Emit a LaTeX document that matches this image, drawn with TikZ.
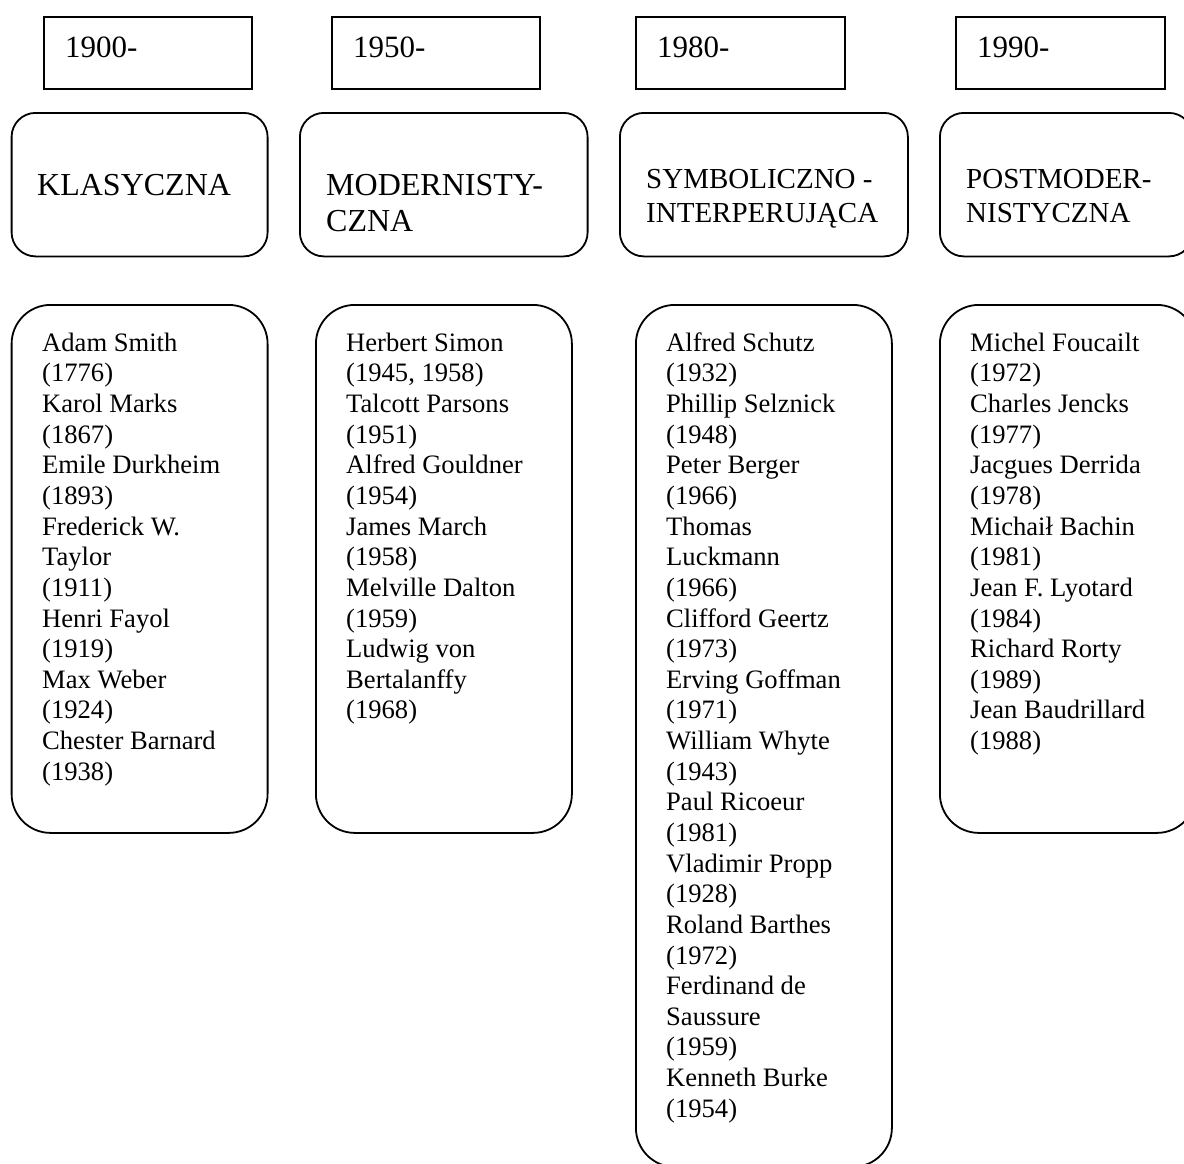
\documentclass[tikz,border=0pt]{standalone}
\usepackage{fontspec}
\setmainfont{Liberation Serif}
\begin{document}
\begin{tikzpicture}[x=1pt,y=-1pt,
  yearbox/.style={draw, line width=2pt, minimum width=208.5pt, minimum height=72.5pt, anchor=north west, inner sep=0pt},
  headbox/.style={draw, line width=1.8pt, rounded corners=24pt, anchor=north west, inner sep=0pt, minimum height=143.5pt},
  listbox/.style={draw, line width=1.8pt, rounded corners=39pt, anchor=north west, inner sep=0pt, minimum width=256pt},
  yeartxt/.style={anchor=base west, inner sep=0pt, font=\fontsize{31}{35.5}\selectfont},
  headbig/.style={anchor=north west, inner sep=0pt, align=left, font=\fontsize{32}{36.7}\selectfont},
  headsmall/.style={anchor=north west, inner sep=0pt, align=left, font=\fontsize{29}{34.4}\selectfont},
  listtxt/.style={anchor=north west, inner sep=0pt, align=left, font=\fontsize{26.6}{30.64}\selectfont}
]
\useasboundingbox (0,0) rectangle (1184,1163);
\clip (0,0) rectangle (1184,1163);
\fill[white] (0,0) rectangle (1184,1163);

% year boxes
\node[yearbox] (y1) at (42.7,15.7) {};
\node[yearbox] (y2) at (330.7,15.7) {};
\node[yearbox] (y3) at (635,15.7) {};
\node[yearbox] (y4) at (955,15.7) {};
\node[yeartxt] (y1t) at (65,57.3) {1900-};
\node[yeartxt] (y2t) at (353,57.3) {1950-};
\node[yeartxt] (y3t) at (657,57.3) {1980-};
\node[yeartxt] (y4t) at (977,57.3) {1990-};

% heading boxes
\node[headbox, minimum width=256pt] (h1) at (10.7,112) {};
\node[headbox, minimum width=287.7pt] (h2) at (299,112) {};
\node[headbox, minimum width=288pt] (h3) at (619,112) {};
\node[headbox, minimum width=253pt] (h4) at (939,112) {};
\node[anchor=base west, inner sep=0pt, font=\fontsize{32}{36.7}\selectfont] (h1t) at (37,195) {KLASYCZNA};
\node[headbig] (h2t) at (326,169.3) {\strut MODERNISTY-\\CZNA};
\node[headsmall] (h3t) at (646,163.9) {\strut SYMBOLICZNO -\\INTERPERUJĄCA};
\node[headsmall] (h4t) at (966,163.9) {\strut POSTMODER-\\NISTYCZNA};

% list boxes
\node[listbox, minimum height=528pt] (l1) at (10.7,304) {};
\node[listbox, minimum height=528pt] (l2) at (315,304) {};
\node[listbox, minimum height=862pt] (l3) at (635,304) {};
\node[listbox, minimum height=528pt] (l4) at (939,304) {};

\node[listtxt] (l1t) at (42,329.6) {\strut Adam Smith\\(1776)\\Karol Marks\\(1867)\\Emile Durkheim\\(1893)\\Frederick W.\\Taylor\\(1911)\\Henri Fayol\\(1919)\\Max Weber\\(1924)\\Chester Barnard\\(1938)};
\node[listtxt] (l2t) at (346,329.6) {\strut Herbert Simon\\(1945, 1958)\\Talcott Parsons\\(1951)\\Alfred Gouldner\\(1954)\\James March\\(1958)\\Melville Dalton\\(1959)\\Ludwig von\\Bertalanffy\\(1968)};
\node[listtxt] (l3t) at (666,329.6) {\strut Alfred Schutz\\(1932)\\Phillip Selznick\\(1948)\\Peter Berger\\(1966)\\Thomas\\Luckmann\\(1966)\\Clifford Geertz\\(1973)\\Erving Goffman\\(1971)\\William Whyte\\(1943)\\Paul Ricoeur\\(1981)\\Vladimir Propp\\(1928)\\Roland Barthes\\(1972)\\Ferdinand de\\Saussure\\(1959)\\Kenneth Burke\\(1954)};
\node[listtxt] (l4t) at (970,329.6) {\strut Michel Foucailt\\(1972)\\Charles Jencks\\(1977)\\Jacgues Derrida\\(1978)\\Michaił Bachin\\(1981)\\Jean F. Lyotard\\(1984)\\Richard Rorty\\(1989)\\Jean Baudrillard\\(1988)};
\end{tikzpicture}
\end{document}
